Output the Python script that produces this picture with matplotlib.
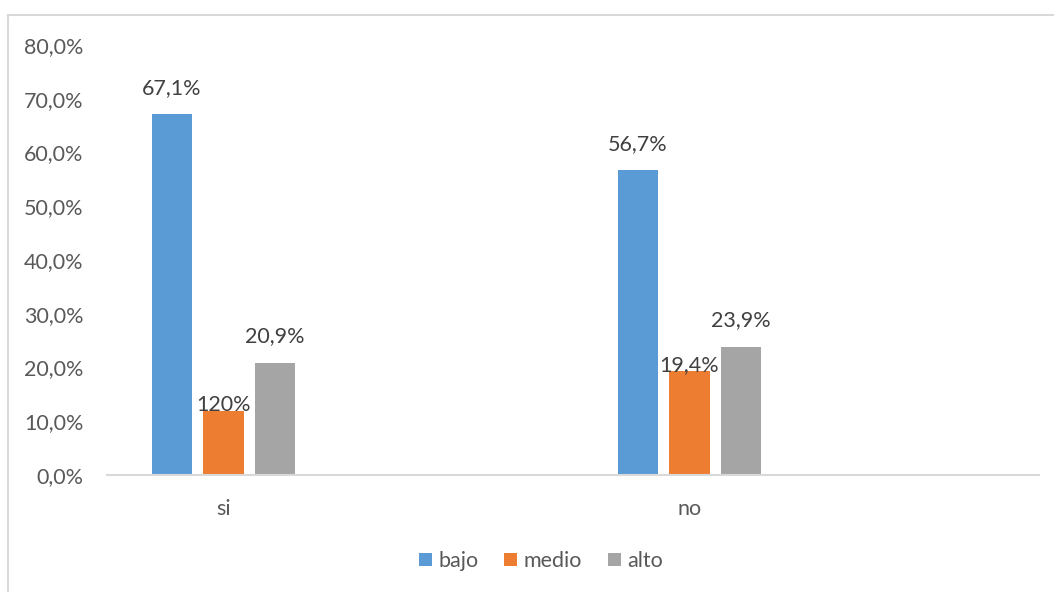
import matplotlib.pyplot as plt
import numpy as np
from matplotlib.patches import Rectangle

categorias = ["si", "", "no", ""]
series = ["bajo", "medio", "alto"]
bajo = [67.1, np.nan, 56.7, np.nan]
medio = [12.0, np.nan, 19.4, np.nan]
alto = [20.9, np.nan, 23.9, np.nan]
etiquetas = [["67,1%", "", "56,7%", ""],
             ["120%", "", "19,4%", ""],
             ["20,9%", "", "23,9%", ""]]
yticks = [0, 10, 20, 30, 40, 50, 60, 70, 80]

colores = ["#5B9BD5", "#ED7D31", "#A5A5A5"]
gris_texto = "#595959"
plt.rcParams['font.family'] = ['Lato', 'DejaVu Sans']
fs = 15.5

fig = plt.figure(figsize=(10.54, 5.92), dpi=100)
ax = fig.add_axes([107/1054, 117/592, 932/1054, 430/592])

# borde del grafico
fig.patches.append(Rectangle((8/1054, -0.01), 1.1, (592-15)/592 + 0.01,
                             transform=fig.transFigure, fill=False,
                             edgecolor="#D9D9D9", linewidth=1.5))

x = np.arange(len(categorias))
ancho = 0.174
paso = 0.221
offsets_lbl = [19, 4, 19]  # puntos sobre la barra
for i, (vals, nombre) in enumerate(zip([bajo, medio, alto], series)):
    pos = x + (i - 1) * paso
    ax.bar(pos, vals, ancho, color=colores[i], label=nombre)
    for p, v, t in zip(pos, vals, etiquetas[i]):
        if t:
            ax.annotate(t, (p, v), xytext=(0, offsets_lbl[i]),
                        textcoords="offset points", ha="center", va="center",
                        fontsize=fs, color="#404040")

ax.set_xlim(-0.5, 3.5)
ax.set_ylim(0, 80)
ax.set_yticks(yticks)
ax.set_yticklabels([f"{v:.1f}%".replace(".", ",") for v in yticks])
ax.set_xticks(x)
ax.set_xticklabels(categorias)
ax.tick_params(axis="y", length=0, pad=17, labelsize=fs, labelcolor=gris_texto)
ax.tick_params(axis="x", length=0, pad=17, labelsize=fs, labelcolor=gris_texto)
for lado in ["top", "right", "left"]:
    ax.spines[lado].set_visible(False)
ax.spines["bottom"].set_color("#D9D9D9")
ax.spines["bottom"].set_linewidth(1.5)

leg = fig.legend(loc="center", bbox_to_anchor=(541/1054, 1 - 561/592), ncol=3,
                 frameon=False, fontsize=fs, handlelength=0.6, handleheight=0.6,
                 handletextpad=0.3, columnspacing=1.2)
for t in leg.get_texts():
    t.set_color(gris_texto)

fig.savefig("out.png", dpi=100)
